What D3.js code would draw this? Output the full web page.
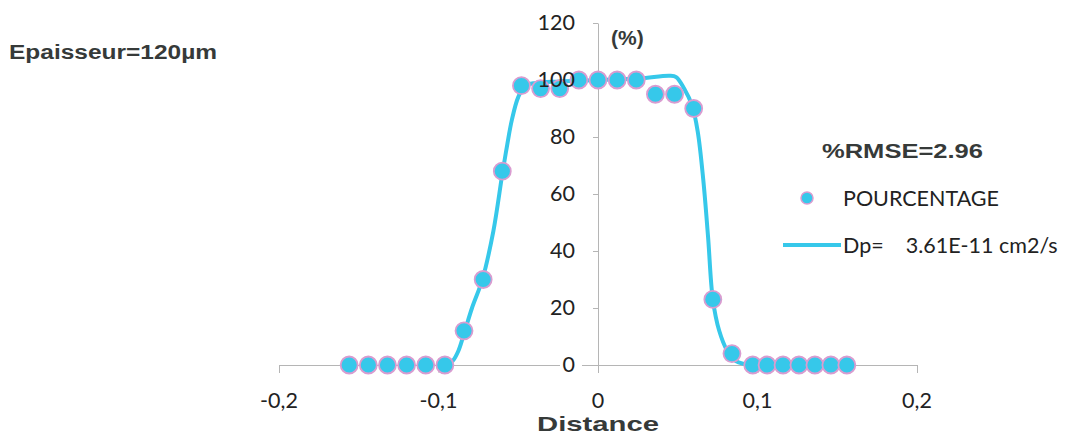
<!DOCTYPE html>
<html>
<head>
<meta charset="utf-8">
<script src="https://cdnjs.cloudflare.com/ajax/libs/d3/7.8.5/d3.min.js"></script>
<style>
  body { margin: 0; background: #fff; }
  svg { display: block; }
  .tick-lbl { font-family: Lato, "Open Sans", sans-serif; font-size: 21.5px; fill: #222; }
  .bold-lbl { font-family: "Liberation Sans", Arial, sans-serif; font-weight: bold; fill: #363a39; }
</style>
</head>
<body>
<div class="chart"></div>
<script>
// measured points (Distance, %)
const distance = [-0.156, -0.144, -0.132, -0.120, -0.108, -0.096, -0.084, -0.072, -0.060, -0.048,
                  -0.036, -0.024, -0.012, 0, 0.012, 0.024, 0.036, 0.048, 0.060, 0.072, 0.084,
                  0.097, 0.106, 0.116, 0.126, 0.136, 0.146, 0.156];
const pourcentage = [0, 0, 0, 0, 0, 0, 12, 30, 68, 98,
                     97, 97, 100, 100, 100, 100, 95, 95, 90, 23, 4,
                     0, 0, 0, 0, 0, 0, 0];

// fitted curve
const curveX = [-0.100, -0.094, -0.091, -0.0875, -0.084, -0.079, -0.0725, -0.0656, -0.060, -0.057,
                -0.054, -0.050, -0.0456, -0.039, -0.024, 0, 0.026, 0.045, 0.049, 0.054,
                0.059, 0.0625, 0.066, 0.069, 0.072, 0.076, 0.081, 0.086, 0.092, 0.097];
const curveY = [0, 0.3, 1.5, 5, 11, 20, 30, 47, 67, 77,
                86, 94, 98, 99, 99.5, 100, 100.5, 101.5, 101, 97,
                91, 82, 65, 45, 23, 12, 5, 1.5, 0.3, 0];

const xTicks = [-0.2, -0.1, 0, 0.1, 0.2];
const yTicks = [0, 20, 40, 60, 80, 100, 120];

const width = 1074, height = 436;
const cyan = "#36c8ea";
const ring = "#d99cd0";

const svg = d3.select(".chart").append("svg")
  .attr("width", width)
  .attr("height", height);

const x = d3.scaleLinear().domain([-0.2, 0.2]).range([279, 917]);
const y = d3.scaleLinear().domain([0, 120]).range([365, 23]);

const fmt = d => d === 0 ? "0" : d3.format(".1f")(d).replace(".", ",").replace("−", "-");

// X axis
const gx = svg.append("g")
  .attr("transform", `translate(0,${y(0)})`)
  .call(d3.axisBottom(x).tickValues(xTicks).tickSize(8).tickSizeOuter(0).tickFormat(""));
gx.select(".domain").attr("stroke", "#b5b5b5");
gx.selectAll(".tick line").attr("stroke", "#b5b5b5");

// Y axis
const gy = svg.append("g")
  .attr("transform", `translate(${x(0)},0)`)
  .call(d3.axisLeft(y).tickValues(yTicks).tickSize(5).tickSizeOuter(0).tickFormat(""));
gy.select(".domain").attr("stroke", "#b5b5b5");
gy.selectAll(".tick line").attr("stroke", "#b5b5b5");

// white patch behind the y "0" label like the original
svg.append("rect")
  .attr("x", x(0) - 38).attr("y", y(0) - 3)
  .attr("width", 22).attr("height", 6)
  .attr("fill", "#fff");

// fitted line
const line = d3.line()
  .x((d, i) => x(curveX[i]))
  .y(d => y(d))
  .curve(d3.curveCatmullRom.alpha(0.5));

svg.append("path")
  .datum(curveY)
  .attr("d", line)
  .attr("fill", "none")
  .attr("stroke", cyan)
  .attr("stroke-width", 4);

// measured points
svg.selectAll("circle.pt")
  .data(pourcentage)
  .enter()
  .append("circle")
  .attr("class", "pt")
  .attr("cx", (d, i) => x(distance[i]))
  .attr("cy", d => y(d))
  .attr("r", 8.5)
  .attr("fill", cyan)
  .attr("stroke", ring)
  .attr("stroke-width", 1.8);

// tick labels (drawn over the points)
svg.selectAll("text.ylbl")
  .data(yTicks)
  .enter()
  .append("text")
  .attr("class", "tick-lbl")
  .attr("x", x(0) - 23)
  .attr("y", d => y(d) + 7)
  .attr("text-anchor", "end")
  .text(d => d);

svg.selectAll("text.xlbl")
  .data(xTicks)
  .enter()
  .append("text")
  .attr("class", "tick-lbl")
  .attr("x", d => x(d))
  .attr("y", 408)
  .attr("text-anchor", "middle")
  .text(fmt);

// titles
svg.append("text")
  .attr("class", "bold-lbl")
  .attr("x", 598).attr("y", 431)
  .attr("text-anchor", "middle")
  .attr("font-size", 21)
  .attr("textLength", 122)
  .attr("lengthAdjust", "spacingAndGlyphs")
  .text("Distance");

svg.append("text")
  .attr("class", "bold-lbl")
  .attr("x", 611).attr("y", 45)
  .attr("font-family", "Lato, sans-serif")
  .attr("font-size", 21)
  .attr("fill", "#333")
  .text("(%)");

svg.append("text")
  .attr("class", "bold-lbl")
  .attr("x", 9).attr("y", 59)
  .attr("font-size", 20)
  .attr("textLength", 208)
  .attr("lengthAdjust", "spacingAndGlyphs")
  .text("Epaisseur=120µm");

svg.append("text")
  .attr("class", "bold-lbl")
  .attr("x", 822).attr("y", 158)
  .attr("font-size", 20)
  .attr("textLength", 161)
  .attr("lengthAdjust", "spacingAndGlyphs")
  .text("%RMSE=2.96");

// legend
const legend = svg.append("g");
legend.append("circle")
  .attr("cx", 807).attr("cy", 198).attr("r", 6)
  .attr("fill", cyan).attr("stroke", ring).attr("stroke-width", 1.5);
legend.append("text")
  .attr("class", "tick-lbl")
  .attr("x", 843).attr("y", 206)
  .attr("font-size", 20)
  .text("POURCENTAGE");
legend.append("line")
  .attr("x1", 783).attr("x2", 841).attr("y1", 245).attr("y2", 245)
  .attr("stroke", cyan).attr("stroke-width", 4);
legend.append("text")
  .attr("class", "tick-lbl")
  .attr("x", 843).attr("y", 253)
  .attr("font-size", 20)
  .attr("xml:space", "preserve")
  .text("Dp=    3.61E-11 cm2/s");
</script>
</body>
</html>
